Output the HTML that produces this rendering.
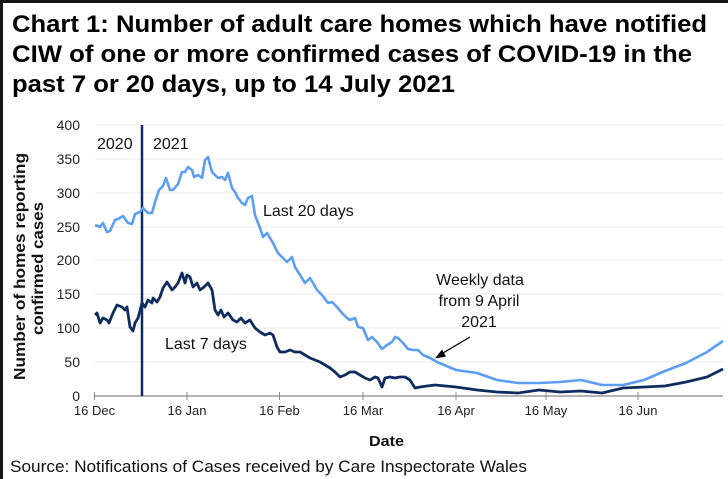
<!DOCTYPE html>
<html><head><meta charset="utf-8"><style>
html,body{margin:0;padding:0;background:#fff;}
svg{display:block;font-family:"Liberation Sans",Arial,sans-serif;}
</style></head><body>
<svg width="728" height="479" viewBox="0 0 728 479" xmlns="http://www.w3.org/2000/svg">
<rect x="0" y="0" width="728" height="479" fill="#fff"/>
<rect x="0" y="0" width="728" height="3" fill="#151515"/>
<rect x="0" y="0" width="3" height="479" fill="#151515"/>
<g font-weight="bold" font-size="24" fill="#000">
<text x="12" y="32" textLength="695" lengthAdjust="spacingAndGlyphs">Chart 1: Number of adult care homes which have notified</text>
<text x="12" y="62" textLength="680" lengthAdjust="spacingAndGlyphs">CIW of one or more confirmed cases of COVID-19 in the</text>
<text x="12" y="92" textLength="443" lengthAdjust="spacingAndGlyphs">past 7 or 20 days, up to 14 July 2021</text>
</g>
<g stroke="#ebebeb" stroke-width="1">
<line x1="95" y1="125" x2="723" y2="125"/>
<line x1="95" y1="159" x2="723" y2="159"/>
<line x1="95" y1="193" x2="723" y2="193"/>
<line x1="95" y1="227" x2="723" y2="227"/>
<line x1="95" y1="260" x2="723" y2="260"/>
<line x1="95" y1="294" x2="723" y2="294"/>
<line x1="95" y1="328" x2="723" y2="328"/>
<line x1="95" y1="362" x2="723" y2="362"/>
</g>
<g font-size="14" fill="#222" text-anchor="end">
<text x="80" y="130">400</text>
<text x="80" y="164">350</text>
<text x="80" y="198">300</text>
<text x="80" y="232">250</text>
<text x="80" y="265">200</text>
<text x="80" y="299">150</text>
<text x="80" y="333">100</text>
<text x="80" y="367">50</text>
<text x="80" y="401">0</text>
</g>
<line x1="95" y1="396" x2="723" y2="396" stroke="#888" stroke-width="1.2"/>
<g stroke="#888" stroke-width="1">
<line x1="94.5" y1="392" x2="94.5" y2="400"/>
<line x1="187" y1="392" x2="187" y2="400"/>
<line x1="279.5" y1="392" x2="279.5" y2="400"/>
<line x1="363" y1="392" x2="363" y2="400"/>
<line x1="456" y1="392" x2="456" y2="400"/>
<line x1="546" y1="392" x2="546" y2="400"/>
<line x1="638" y1="392" x2="638" y2="400"/>
</g>
<g font-size="13" fill="#222" text-anchor="middle">
<text x="94.5" y="415">16 Dec</text>
<text x="187" y="415">16 Jan</text>
<text x="279.5" y="415">16 Feb</text>
<text x="363" y="415">16 Mar</text>
<text x="456" y="415">16 Apr</text>
<text x="546" y="415">16 May</text>
<text x="638" y="415">16 Jun</text>
</g>
<line x1="142" y1="125" x2="142" y2="396" stroke="#0f2c60" stroke-width="2.5"/>
<g font-size="16" fill="#111">
<text x="97" y="149">2020</text>
<text x="153" y="149">2021</text>
<text x="263" y="216">Last 20 days</text>
<text x="165" y="349">Last 7 days</text>
<text x="480" y="285" text-anchor="middle">Weekly data</text>
<text x="479" y="306" text-anchor="middle">from 9 April</text>
<text x="479" y="327" text-anchor="middle">2021</text>
</g>
<polyline fill="none" stroke="#5c9ef2" stroke-width="2.6" stroke-linejoin="round" points="95,225 100,227 103,223 107,232 110,231 115,220 118,219 123,216 128,223 132,224 135,214 140,212 143,208 148,213 152,213 155,202 159,190 163,186 166,178 170,190 173,190 178,184 182,172 185,172 188,167 192,170 194,177 198,175 202,178 205,160 208,157 212,172 215,175 218,178 222,177 225,180 228,173 232,188 235,192 238,198 242,203 245,205 248,198 252,196 255,215 260,228 263,237 267,233 270,238 273,243 278,253 283,258 287,262 292,257 295,267 300,275 305,283 310,278 313,283 317,290 322,295 328,303 332,302 337,307 342,313 347,318 350,320 355,318 358,327 363,328 368,340 372,337 377,342 382,349 387,345 392,342 395,337 398,338 403,343 408,349 413,350 418,350 423,355 430,358 437,362 456,370 477,373 497,380 518,383 539,383 560,382 581,380 602,385 623,385 644,380 665,371 686,363 707,352 723,341"/>
<polyline fill="none" stroke="#0f2c60" stroke-width="2.8" stroke-linejoin="round" points="95,315 97,313 100,323 103,318 107,320 109,323 113,313 117,305 122,307 125,310 127,307 130,327 133,331 135,323 138,318 142,303 145,307 148,300 152,303 153,298 157,302 160,297 163,288 167,282 172,290 175,287 178,283 182,273 185,283 187,275 190,277 193,287 197,283 200,290 204,287 208,283 212,290 215,310 218,315 221,310 224,317 228,313 233,320 237,322 241,318 245,323 250,320 255,328 260,332 265,335 270,333 273,335 277,347 280,352 285,352 290,350 295,352 300,352 305,355 310,358 315,360 320,362 325,365 330,368 335,372 340,377 345,375 350,372 355,372 360,375 365,378 370,380 375,377 378,378 382,387 385,378 390,377 395,378 400,377 405,377 410,380 415,388 420,387 427,386 435,385 456,387 477,390 497,392 518,393 539,390 560,392 581,391 602,393 623,388 644,387 665,386 686,382 707,377 723,369"/>
<line x1="470" y1="337" x2="443" y2="353" stroke="#000" stroke-width="1.3"/>
<polygon points="435,358.5 442,349.5 446,356.5" fill="#000"/>
<g font-weight="bold" font-size="16" fill="#111">
<text transform="translate(25,266.5) rotate(-90)" text-anchor="middle" textLength="227" lengthAdjust="spacingAndGlyphs">Number of homes reporting</text>
<text transform="translate(43,268.5) rotate(-90)" text-anchor="middle" textLength="133" lengthAdjust="spacingAndGlyphs">confirmed cases</text>
</g>
<text x="369" y="446" font-weight="bold" font-size="15" fill="#111" textLength="35" lengthAdjust="spacingAndGlyphs">Date</text>
<text x="10" y="472" font-size="16.5" fill="#111" textLength="517" lengthAdjust="spacingAndGlyphs">Source: Notifications of Cases received by Care Inspectorate Wales</text>
</svg>
</body></html>
